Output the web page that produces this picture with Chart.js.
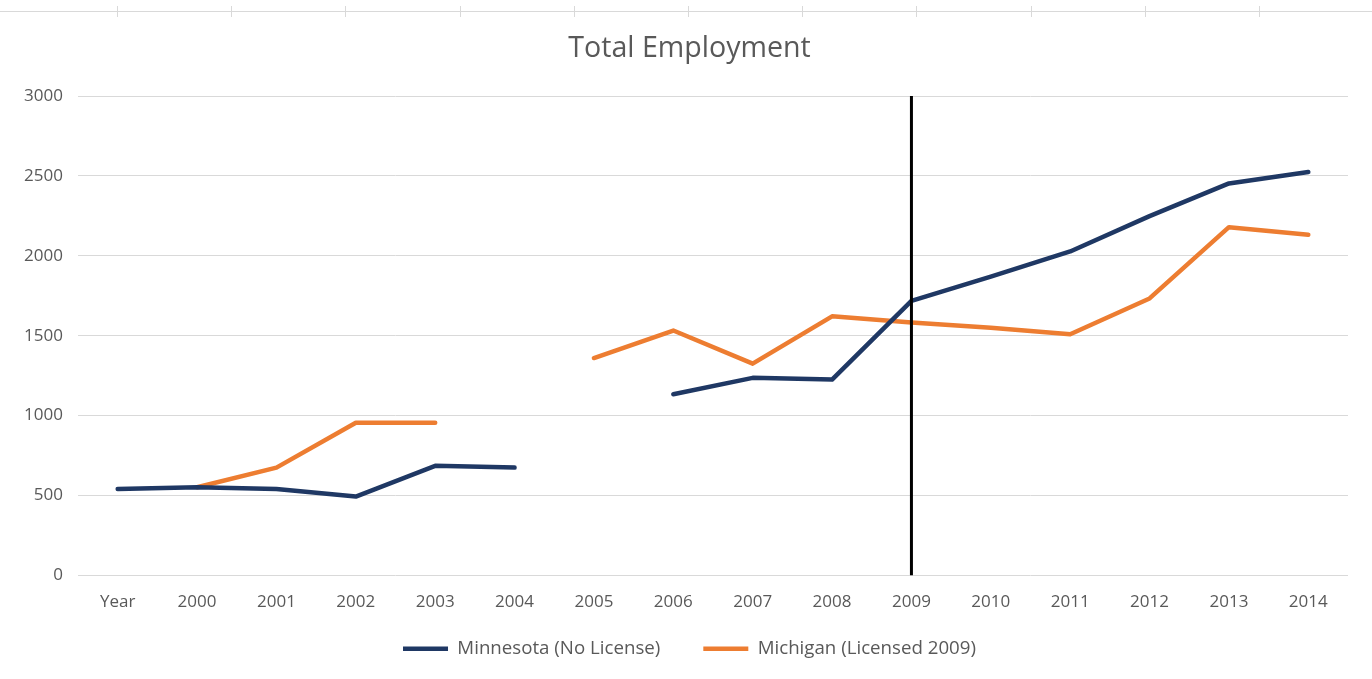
<!DOCTYPE html>
<html>
<head>
<meta charset="utf-8">
<title>Total Employment</title>
<script src="https://cdn.jsdelivr.net/npm/chart.js@4/dist/chart.umd.min.js"></script>
<style>
  html, body { margin: 0; padding: 0; background: #fff; }
  #wrap { width: 1372px; height: 679px; position: relative; }
</style>
</head>
<body>
<div id="wrap"><canvas id="employmentChart"></canvas></div>
<script>
const categories = ['Year', '2000', '2001', '2002', '2003', '2004', '2005', '2006', '2007',
  '2008', '2009', '2010', '2011', '2012', '2013', '2014'];
const minnesota = [540, 551, 540, 493, 685, 674, null, 1133, 1236, 1225, 1718, 1870, 2027, 2248, 2453, 2524];
const michigan = [null, 551, 674, 955, 955, null, 1360, 1532, 1325, 1621, 1582, 1550, 1509, 1733, 2179, 2131];
const seriesNames = ['Minnesota (No License)', 'Michigan (Licensed 2009)'];
const yMin = 0;
const yMax = 3000;
const yStep = 500;
const licenseYear = '2009';

const FONT = '"Open Sans", Lato, sans-serif';
const GREY_TEXT = '#595959';

// thin rule with ticks along the top edge
const topRule = {
  id: 'topRule',
  beforeDraw(chart) {
    const ctx = chart.ctx;
    ctx.save();
    ctx.strokeStyle = '#d9d9d9';
    ctx.lineWidth = 1;
    ctx.beginPath();
    ctx.moveTo(0, 11.5);
    ctx.lineTo(chart.width, 11.5);
    for (let x = 117; x < chart.width - 60; x += 114.2) {
      ctx.moveTo(Math.round(x) + 0.5, 6);
      ctx.lineTo(Math.round(x) + 0.5, 17);
    }
    ctx.stroke();
    ctx.restore();
  }
};

// both axes are squeezed (legend close under the x labels, title/legend centred
// a bit right); let their labels draw past the boxes
const labelRoom = {
  id: 'labelRoom',
  afterLayout(chart) {
    chart.scales.x.bottom = chart.height;
    chart.scales.y.left = 0;
  }
};

// vertical marker at the licensing year
const yearMarker = {
  id: 'yearMarker',
  afterDatasetsDraw(chart) {
    const { ctx, chartArea, scales } = chart;
    const x = scales.x.getPixelForValue(categories.indexOf(licenseYear));
    ctx.save();
    ctx.strokeStyle = '#000';
    ctx.lineWidth = 3;
    ctx.beginPath();
    ctx.moveTo(x, chartArea.top);
    ctx.lineTo(x, chartArea.bottom);
    ctx.stroke();
    ctx.restore();
  }
};

const lineStyle = {
  borderWidth: 4.5,
  pointRadius: 0,
  pointHoverRadius: 0,
  tension: 0,
  spanGaps: false,
  borderCapStyle: 'round',
  borderJoinStyle: 'round',
  fill: false
};

new Chart(document.getElementById('employmentChart'), {
  type: 'line',
  data: {
    labels: categories,
    datasets: [
      { label: seriesNames[0], data: minnesota, borderColor: '#1F3864', backgroundColor: '#1F3864', ...lineStyle },
      { label: seriesNames[1], data: michigan, borderColor: '#ED7D31', backgroundColor: '#ED7D31', ...lineStyle }
    ]
  },
  options: {
    responsive: true,
    maintainAspectRatio: false,
    animation: false,
    layout: { padding: { left: 31, right: 24, top: 0, bottom: 11 } },
    plugins: {
      title: {
        display: true,
        text: 'Total Employment',
        color: GREY_TEXT,
        font: { family: FONT, size: 28.6, weight: 'normal' },
        padding: { top: 32, bottom: 29.7 }
      },
      legend: {
        position: 'bottom',
        labels: {
          color: GREY_TEXT,
          font: { family: FONT, size: 18.7 },
          usePointStyle: true,
          pointStyle: 'line',
          pointStyleWidth: 45,
          boxHeight: 17,
          padding: 43
        }
      },
      tooltip: { enabled: false }
    },
    scales: {
      x: {
        offset: true,
        grid: { display: false, drawTicks: false },
        border: { display: false },
        ticks: {
          color: GREY_TEXT,
          font: { family: FONT, size: 17 },
          padding: 17,
          maxRotation: 0,
          autoSkip: false
        },
        afterFit(scale) { scale.height = 21; }
      },
      y: {
        min: yMin,
        max: yMax,
        grid: { color: '#d9d9d9', lineWidth: 1, drawTicks: false },
        border: { display: false },
        ticks: {
          stepSize: yStep,
          color: GREY_TEXT,
          font: { family: FONT, size: 17 },
          padding: 15,
          callback: value => String(value)
        },
        afterFit(scale) { scale.width = 47; }
      }
    }
  },
  plugins: [topRule, labelRoom, yearMarker]
});
</script>
</body>
</html>
